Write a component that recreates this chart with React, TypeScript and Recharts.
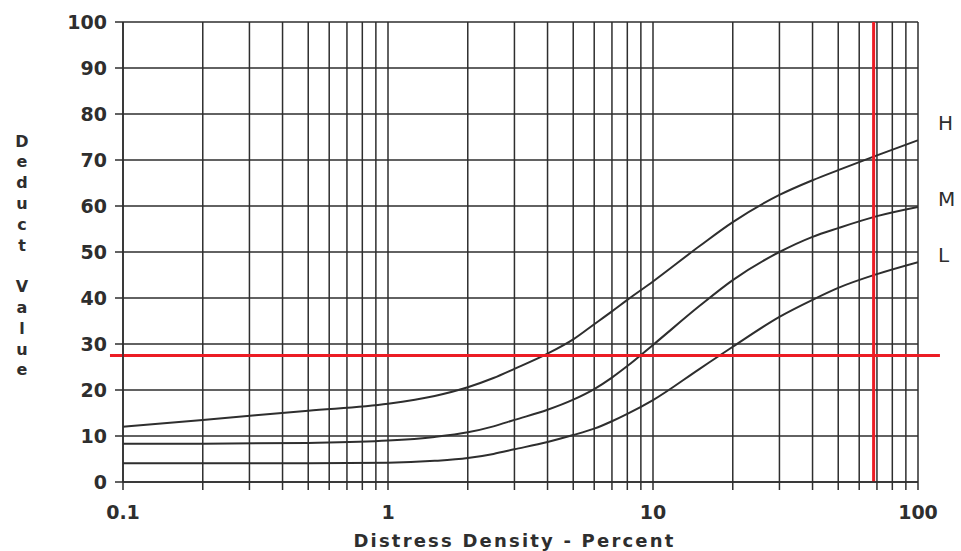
import React from 'react';
import {
  CartesianGrid,
  Label,
  Line,
  LineChart,
  ReferenceDot,
  ReferenceLine,
  XAxis,
  YAxis
} from 'recharts';

// distress density (percent), log axis
const densities = [0.1, 0.2, 0.5, 1, 1.5, 2, 2.5, 3, 4, 5, 6, 7, 8, 10, 15, 20, 30, 40, 50, 70, 100];
const highDeduct = [12, 13.5, 15.5, 17, 18.7, 20.6, 22.6, 24.6, 27.9, 31, 34.3, 37.1, 39.6, 43.6, 51.3, 56.5, 62.4, 65.6, 67.8, 71, 74.3];
const mediumDeduct = [8.3, 8.3, 8.5, 9, 9.8, 10.8, 12.1, 13.5, 15.7, 17.9, 20.2, 22.7, 25.2, 29.8, 38.3, 43.9, 50, 53.3, 55.2, 57.8, 59.8];
const lowDeduct = [4.1, 4.1, 4.1, 4.2, 4.6, 5.2, 6.1, 7.1, 8.7, 10.2, 11.6, 13.2, 14.8, 17.8, 24.6, 29.4, 35.9, 39.6, 42.2, 45.2, 47.8];

const xTicks = [
  0.1, 0.2, 0.3, 0.4, 0.5, 0.6, 0.7, 0.8, 0.9,
  1, 2, 3, 4, 5, 6, 7, 8, 9,
  10, 20, 30, 40, 50, 60, 70, 80, 90,
  100
];
const xTickLabels = [0.1, 1, 10, 100];
const yTicks = [0, 10, 20, 30, 40, 50, 60, 70, 80, 90, 100];

// severity labels at the right end
const severityNames = ['H', 'M', 'L'];
const severityLabelY = [78, 61.5, 49.3];

// red read-off lines
const readDeduct = 27.5;
const readDensity = 68;

const chartData = densities.map((d, i) => ({
  x: d,
  high: highDeduct[i],
  medium: mediumDeduct[i],
  low: lowDeduct[i]
}));

const INK = '#2e2e2e';
const RED = '#ec1c24';
const FONT = '"DejaVu Sans", sans-serif';

const yTitle = 'Deduct Value'.split('');

const YTitle = (props: any) => {
  const top = props.viewBox ? props.viewBox.y : 22;
  return (
    <g>
      {yTitle.map((ch, i) => (
        <text
          key={i}
          x={22}
          y={top + 119 + i * 20.8}
          textAnchor="middle"
          dominantBaseline="central"
          fontFamily={FONT}
          fontWeight={700}
          fontSize={16}
          fill={INK}
        >
          {ch}
        </text>
      ))}
    </g>
  );
};

const App: React.FC = () => {
  return (
    <div style={{ position: 'absolute', left: 0, top: 0, background: '#fff' }}>
      <LineChart
        width={961}
        height={551}
        data={chartData}
        margin={{ top: 22, right: 43, left: 63, bottom: 29 }}
      >
        <CartesianGrid stroke={INK} strokeWidth={1.5} />
        <XAxis
          dataKey="x"
          type="number"
          scale="log"
          domain={[0.1, 100]}
          ticks={xTicks}
          interval={0}
          height={40}
          tickSize={8}
          tickMargin={16}
          tickFormatter={(v: number) => (xTickLabels.includes(v) ? String(v) : '')}
          tick={{ fill: INK, fontFamily: FONT, fontWeight: 700, fontSize: 19 }}
          stroke={INK}
          strokeWidth={1.5}
          allowDataOverflow
        >
          <Label
            value="Distress Density - Percent"
            position="bottom"
            offset={0}
            dy={12}
            dx={-6}
            fill={INK}
            fontFamily={FONT}
            fontWeight={700}
            fontSize={18}
            letterSpacing={2.2}
          />
        </XAxis>
        <YAxis
          type="number"
          domain={[0, 100]}
          ticks={yTicks}
          interval={0}
          width={60}
          tickSize={8}
          tickMargin={8}
          tick={{ fill: INK, fontFamily: FONT, fontWeight: 700, fontSize: 19 }}
          stroke={INK}
          strokeWidth={1.5}
        >
          <Label content={<YTitle />} />
        </YAxis>
        <Line
          type="monotone"
          dataKey="high"
          stroke={INK}
          strokeWidth={2}
          dot={false}
          isAnimationActive={false}
        />
        <Line
          type="monotone"
          dataKey="medium"
          stroke={INK}
          strokeWidth={2}
          dot={false}
          isAnimationActive={false}
        />
        <Line
          type="monotone"
          dataKey="low"
          stroke={INK}
          strokeWidth={2}
          dot={false}
          isAnimationActive={false}
        />
        {severityNames.map((name, i) => (
          <ReferenceDot
            key={name}
            x={100}
            y={severityLabelY[i]}
            r={0}
            ifOverflow="visible"
            label={{
              value: name,
              position: 'right',
              offset: 20,
              fill: INK,
              fontFamily: FONT,
              fontSize: 20
            }}
          />
        ))}
        <ReferenceLine
          segment={[
            { x: 0.0893, y: readDeduct },
            { x: 121, y: readDeduct }
          ]}
          stroke={RED}
          strokeWidth={3}
          ifOverflow="visible"
        />
        <ReferenceLine x={readDensity} stroke={RED} strokeWidth={3} />
      </LineChart>
    </div>
  );
};

export default App;
